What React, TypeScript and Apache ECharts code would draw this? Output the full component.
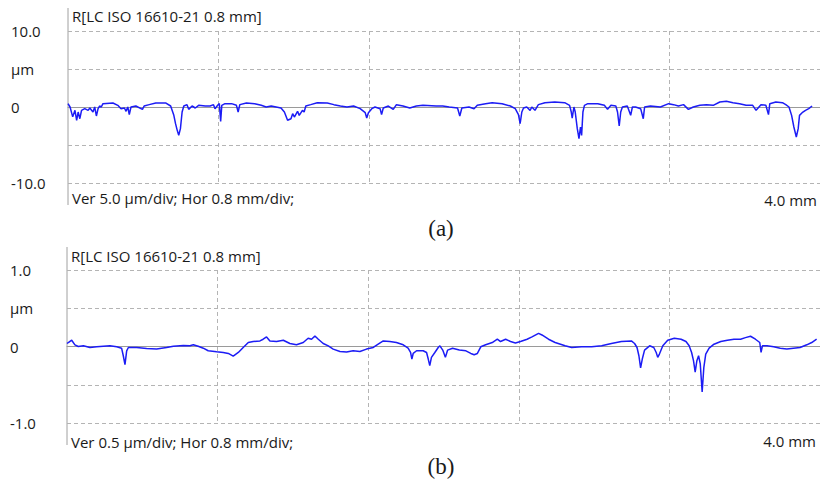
import React, { useEffect, useRef } from "react";
import * as echarts from "echarts";

// ---- Panel (a): profile, x in mm, y in µm ----
const profileAx = [
  0.000,0.011,0.025,0.037,0.046,0.054,0.063,0.072,0.089,0.107,
  0.116,0.133,0.142,0.151,0.160,0.168,0.177,0.186,0.239,0.265,
  0.282,0.300,0.309,0.318,0.326,0.335,0.361,0.396,0.405,0.432,
  0.467,0.519,0.546,0.563,0.572,0.581,0.589,0.598,0.607,0.616,
  0.633,0.642,0.660,0.677,0.695,0.730,0.756,0.774,0.782,0.796,
  0.805,0.812,0.818,0.835,0.870,0.896,0.905,0.914,0.949,0.993,
  1.028,1.054,1.081,1.107,1.133,1.151,1.168,1.186,1.195,1.204,
  1.221,1.230,1.247,1.256,1.265,1.291,1.326,1.379,1.414,1.449,
  1.484,1.519,1.554,1.581,1.589,1.598,1.616,1.633,1.660,1.668,
  1.677,1.704,1.730,1.747,1.782,1.818,1.853,1.888,1.958,
  1.993,2.028,2.072,2.084,2.095,2.133,2.160,2.177,2.221,2.256,
  2.309,2.353,2.379,2.396,2.405,2.414,2.423,2.440,2.458,2.467,
  2.484,2.502,2.537,2.589,2.642,2.668,2.677,2.682,2.691,2.698,
  2.709,2.718,2.726,2.732,2.739,2.747,2.765,2.818,2.853,2.870,
  2.888,2.914,2.923,2.932,2.940,2.949,2.975,2.993,3.002,3.019,
  3.046,3.060,3.067,3.098,3.151,3.195,3.221,3.247,3.274,3.300,
  3.326,3.361,3.396,3.432,3.467,3.502,3.537,3.572,3.607,3.642,
  3.660,3.686,3.712,3.726,3.733,3.765,3.800,3.818,3.835,3.849,
  3.861,3.874,3.884,3.891,3.905,3.923,3.940,3.958,
];
const profileAy = [
  0.44,0.00,-1.30,-0.44,-1.75,-0.66,-1.54,-0.44,-0.22,-0.44,
  -0.13,-0.66,0.00,-1.18,-0.22,0.13,0.00,0.44,0.53,0.22,
  -0.22,-0.13,-0.57,0.00,-1.00,0.00,0.13,-0.31,0.13,0.31,
  0.53,0.53,0.13,-1.10,-2.19,-3.07,-3.73,-2.85,-0.66,0.13,
  0.31,-0.31,0.13,-0.13,0.22,0.13,0.13,0.31,-0.22,0.22,
  0.44,-1.89,0.22,0.44,0.44,0.22,-0.66,0.31,0.53,0.44,
  0.22,0.00,0.13,0.00,-0.13,-0.66,-1.75,-1.54,-0.88,-1.32,
  -0.57,-1.10,-0.44,-0.66,0.13,0.31,0.57,0.53,0.31,0.13,
  0.00,0.13,-0.22,-0.75,-1.45,-0.75,-0.22,0.00,-0.22,-1.00,
  -0.13,0.13,-0.31,0.31,0.13,-0.13,0.13,0.22,0.13,
  0.13,0.00,-0.13,-1.18,-0.13,0.00,-0.22,0.22,0.44,0.57,
  0.44,0.13,-0.22,-1.00,-2.19,-0.66,-0.13,0.00,-0.44,0.00,
  -0.44,0.31,0.57,0.66,0.57,0.22,-0.66,-1.45,0.00,-0.66,
  -2.85,-4.17,-2.63,-3.73,-0.66,0.22,0.44,0.44,0.22,-0.31,
  0.22,0.13,-0.66,-2.50,-0.66,0.00,0.13,-1.10,0.00,0.00,
  -0.22,-1.54,0.00,0.13,0.00,0.44,0.31,0.13,0.31,-0.31,
  0.00,0.22,0.31,0.22,0.66,0.75,0.57,0.44,0.22,0.22,
  -0.44,0.31,0.22,-1.00,0.44,0.66,0.57,0.31,0.00,-1.10,
  -2.63,-3.95,-2.85,-1.10,-0.75,-0.44,-0.22,0.13,
];

// ---- Panel (b) ----
const profileBx = [
  0.000,0.007,0.025,0.042,0.060,0.087,0.122,0.158,0.193,0.228,
  0.264,0.290,0.299,0.308,0.317,0.326,0.370,0.423,0.476,0.529,
  0.565,0.618,0.653,0.671,0.697,0.724,0.750,0.795,0.830,0.857,
  0.883,0.910,0.936,0.963,0.989,1.025,1.042,1.060,1.078,1.113,
  1.149,1.184,1.219,1.255,1.281,1.299,1.317,1.335,1.361,1.388,
  1.414,1.450,1.485,1.520,1.556,1.591,1.627,1.653,1.680,1.715,
  1.750,1.786,1.812,1.825,1.832,1.839,1.857,1.892,1.910,1.919,
  1.927,1.936,1.954,1.972,1.981,
  1.996,2.010,2.022,2.048,2.084,2.119,2.145,2.163,2.180,2.198,
  2.224,2.259,2.286,2.303,2.330,2.356,2.382,2.409,2.444,2.470,
  2.505,2.523,2.558,2.593,2.646,2.681,2.734,2.787,2.840,2.892,
  2.945,2.998,3.015,3.028,3.038,3.047,3.056,3.068,3.095,3.117,
  3.130,3.138,3.147,3.165,3.191,3.226,3.262,3.288,3.305,3.318,
  3.328,3.337,3.346,3.355,3.364,3.374,3.383,3.393,3.411,3.437,
  3.473,3.508,3.543,3.578,3.604,3.631,3.657,3.680,3.687,3.694,
  3.719,3.754,3.789,3.824,3.859,3.894,3.930,3.956,3.982,
];
const profileBy = [
  0.039,0.052,0.082,0.022,0.000,0.009,-0.013,-0.004,0.004,0.009,
  -0.004,-0.022,-0.121,-0.237,-0.056,-0.013,-0.013,-0.026,-0.034,-0.013,
  0.004,0.013,0.009,0.022,0.004,-0.022,-0.056,-0.069,-0.078,-0.091,
  -0.125,-0.078,-0.013,0.052,0.065,0.073,0.095,0.125,0.073,0.065,
  0.082,0.039,0.022,0.052,0.108,0.095,0.138,0.095,0.039,0.009,
  -0.034,-0.065,-0.073,-0.056,-0.065,-0.034,-0.013,0.030,0.073,0.065,
  0.052,0.022,-0.022,-0.078,-0.164,-0.091,-0.056,-0.056,-0.078,-0.164,
  -0.250,-0.142,-0.078,-0.013,0.009,
  -0.047,-0.142,-0.047,-0.022,-0.047,-0.056,-0.091,-0.108,-0.091,-0.004,
  0.022,0.052,0.095,0.065,0.095,0.065,0.047,0.065,0.095,0.125,
  0.172,0.151,0.095,0.052,0.009,-0.013,-0.004,-0.004,0.009,0.039,
  0.065,0.073,0.039,-0.013,-0.121,-0.280,-0.164,-0.047,0.009,-0.013,
  -0.078,-0.142,-0.099,0.009,0.082,0.108,0.095,0.065,0.009,-0.078,
  -0.185,-0.336,-0.185,-0.121,-0.228,-0.595,-0.272,-0.099,-0.022,0.030,
  0.065,0.082,0.095,0.095,0.116,0.134,0.095,0.052,-0.078,0.009,
  0.009,-0.004,-0.022,-0.034,-0.022,-0.013,0.022,0.052,0.095,
];

// ---- Tick labels ----
const yTicksA = [-10, -5, 0, 5, 10];
const yLabelsA = ["-10.0", "", "0", "µm", "10.0"];
const yTicksB = [-1, -0.5, 0, 0.5, 1];
const yLabelsB = ["-1.0", "", "0", "µm", "1.0"];

const titleA = "R[LC ISO 16610-21 0.8 mm]";
const titleB = "R[LC ISO 16610-21 0.8 mm]";
const scaleA = "Ver 5.0 µm/div; Hor 0.8 mm/div;";
const scaleB = "Ver 0.5 µm/div; Hor 0.8 mm/div;";
const lengthLabel = "4.0 mm";
const captions = ["(a)", "(b)"];

const FONT = "'Open Sans', 'Noto Sans', sans-serif";
const GRID_COLOR = "#b4b4b4";
const LINE_COLOR = "#1c1cf5";

function labelFor(ticks: number[], labels: string[]) {
  return (v: number) => {
    const i = ticks.findIndex((t) => Math.abs(t - v) < 1e-6);
    return i >= 0 ? labels[i] : "";
  };
}

function xAxisCfg(gridIndex: number) {
  return {
    type: "value",
    gridIndex,
    min: 0,
    max: 4.0,
    interval: 0.8,
    axisLabel: { show: false },
    axisTick: { show: false },
    axisLine: { show: true, onZero: true, lineStyle: { color: "#9a9a9a", width: 1 } },
    splitLine: {
      show: true,
      showMinLine: false,
      lineStyle: { color: GRID_COLOR, type: [4, 3], width: 1 },
    },
  };
}

function yAxisCfg(gridIndex: number, ticks: number[], labels: string[]) {
  return {
    type: "value",
    gridIndex,
    min: ticks[0],
    max: ticks[ticks.length - 1],
    interval: ticks[1] - ticks[0],
    axisLine: { show: false },
    axisTick: { show: false },
    axisLabel: {
      show: true,
      align: "left",
      margin: 57,
      color: "#1a1a1a",
      fontFamily: FONT,
      fontSize: 15,
      formatter: labelFor(ticks, labels),
    },
    splitLine: {
      show: true,
      lineStyle: { color: GRID_COLOR, type: [4, 3], width: 1 },
    },
  };
}

export default function App() {
  const ref = useRef<HTMLDivElement>(null);
  useEffect(() => {
    if (!ref.current) return;
    const chart = echarts.init(ref.current, null, { renderer: "svg" });
    const dataA = profileAx.map((x, i) => [x, profileAy[i]]);
    const dataB = profileBx.map((x, i) => [x, profileBy[i]]);
    const txt = (x: number, y: number, text: string, extra: any = {}) => ({
      type: "text",
      x,
      y,
      silent: true,
      style: {
        text,
        fill: "#1a1a1a",
        font: `15px ${FONT}`,
        textVerticalAlign: "middle",
        verticalAlign: "middle",
        ...extra,
      },
    });
    const serif = { font: "23px 'Liberation Serif', serif", textAlign: "center", align: "center" };
    const right = { textAlign: "right", align: "right" };
    chart.setOption({
      animation: false,
      backgroundColor: "#ffffff",
      grid: [
        { left: 68, top: 31, width: 758, height: 152 },
        { left: 67, top: 270, width: 756, height: 153 },
      ],
      xAxis: [xAxisCfg(0), xAxisCfg(1)],
      yAxis: [yAxisCfg(0, yTicksA, yLabelsA), yAxisCfg(1, yTicksB, yLabelsB)],
      series: [
        {
          type: "line",
          xAxisIndex: 0,
          yAxisIndex: 0,
          data: dataA,
          showSymbol: false,
          lineStyle: { color: LINE_COLOR, width: 1.5 },
          z: 5,
        },
        {
          type: "line",
          xAxisIndex: 1,
          yAxisIndex: 1,
          data: dataB,
          showSymbol: false,
          lineStyle: { color: LINE_COLOR, width: 1.5 },
          z: 5,
        },
      ],
      graphic: [
        { type: "line", silent: true, shape: { x1: 68, y1: 8, x2: 68, y2: 205 }, style: { stroke: "#a0a0a0", lineWidth: 1 } },
        { type: "line", silent: true, shape: { x1: 67, y1: 247, x2: 67, y2: 445 }, style: { stroke: "#a0a0a0", lineWidth: 1 } },
        txt(72, 16, titleA),
        txt(72, 198, scaleA),
        txt(817, 200, lengthLabel, right),
        txt(441, 228, captions[0], serif),
        txt(71, 256, titleB),
        txt(71, 442, scaleB),
        txt(816, 441, lengthLabel, right),
        txt(441, 466, captions[1], serif),
      ],
    });
    return () => chart.dispose();
  }, []);
  return (
    <div
      ref={ref}
      style={{ position: "fixed", left: 0, top: 0, width: 820, height: 486, background: "#fff" }}
    />
  );
}
